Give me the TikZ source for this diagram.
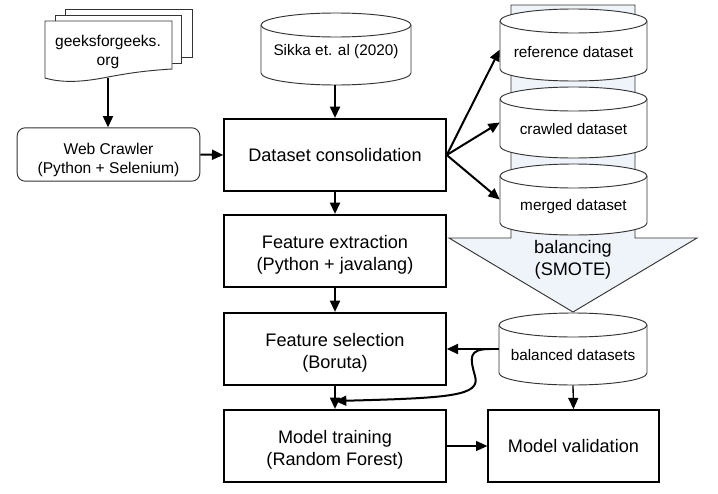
\documentclass[tikz,border=0pt]{standalone}
\usepackage{fontspec}
\setmainfont{Liberation Sans}
\usetikzlibrary{arrows.meta}
\definecolor{paleblue}{HTML}{EFF4FA}
\definecolor{soft}{HTML}{333333}
\newcommand{\lowerfirst}{\rule{0pt}{16pt}}
\tikzset{
  x=0.75pt,y=-0.75pt,
  procbox/.style={draw=black,line width=1.6pt,fill=white,align=center,font=\fontsize{13.6}{16.3}\selectfont,inner sep=0pt},
  softbox/.style={draw=soft,line width=.7pt,rounded corners=6pt,fill=white,align=center,font=\fontsize{11.7}{14.3}\selectfont,inner sep=0pt},
  thin outline/.style={draw=soft,line width=.7pt,fill=white},
  cyllabel/.style={align=center,font=\fontsize{11.5}{13}\selectfont,inner sep=0pt},
  flow/.style={draw=black,line width=1.5pt,-{Triangle[length=8.5pt,width=7.5pt]}},
}
% name, cx, top, bottom, rx, ry, label, baseline drop
\newcommand{\cylnode}[8]{%
  \path[thin outline] (#2-#5,#3+#6) -- (#2-#5,#4-#6) arc[start angle=180,end angle=360,x radius=#5*0.75pt,y radius=#6*0.75pt] -- (#2+#5,#3+#6) arc[start angle=0,end angle=180,x radius=#5*0.75pt,y radius=#6*0.75pt] -- cycle;
  \path[thin outline,fill=none] (#2-#5,#3+#6) arc[start angle=180,end angle=360,x radius=#5*0.75pt,y radius=#6*0.75pt];
  \node[cyllabel,minimum width=2*#5*0.75pt,minimum height=(#4-#3)*0.75pt] (#1) at (#2,{(#3+#4)/2}) {\smash{\raisebox{-#8pt}{#7}}};
}
\begin{document}
\begin{tikzpicture}
\useasboundingbox (0,0) rectangle (718,493);
% big hollow arrow
\path[draw=soft,line width=.7pt,fill=paleblue] (511,5) -- (635,5) -- (635,238) -- (697,238) -- (573,312) -- (449,238) -- (511,238) -- cycle;
\node[font=\fontsize{13.6}{16.3}\selectfont,align=center,inner sep=0pt] (balancing) at (573,260) {balancing\\(SMOTE)};
% documents
\path[thin outline] (65,9) -- (192,9) -- (192,57) -- (65,57) -- cycle;
\path[thin outline] (55,15) -- (181,15) -- (181,63) -- (55,63) -- cycle;
\path[thin outline] (45,21) -- (172,21) -- (172,69) .. controls (140,71) and (125,74) .. (108,77) .. controls (88,81) and (65,84) .. (45,78) -- cycle;
\node[align=center,font=\fontsize{11.7}{14.8}\selectfont,inner sep=0pt] (docs) at (108,52) {geeksforgeeks.\\org};
\coordinate (docsbottom) at (108,78);
% cylinders
\cylnode{sikka}{336}{13}{85}{75}{12}{Sikka et. al (2020)}{5}
\cylnode{refds}{573.5}{9}{81}{73.5}{12}{reference dataset}{9}
\cylnode{crawlds}{573.5}{87}{158}{73.5}{12}{crawled dataset}{9.2}
\cylnode{mergeds}{573.5}{164}{235}{73.5}{12}{merged dataset}{8.6}
\cylnode{balds}{573}{313}{385}{74}{12}{balanced datasets}{8.7}
% boxes
\node[softbox,minimum width=137pt,minimum height=40pt] (crawler) at (108.5,154.5) {\lowerfirst Web Crawler\\(Python + Selenium)};
\node[procbox,minimum width=166pt,minimum height=54pt] (consol) at (335,155) {Dataset consolidation};
\node[procbox,minimum width=166pt,minimum height=54pt] (extract) at (335,251) {\lowerfirst Feature extraction\\(Python + javalang)};
\node[procbox,minimum width=166pt,minimum height=54pt] (select) at (335,349) {\lowerfirst Feature selection\\(Boruta)};
\node[procbox,minimum width=166pt,minimum height=54pt] (train) at (335,446) {\lowerfirst Model training\\(Random Forest)};
\node[procbox,line width=1.2pt,minimum width=128pt,minimum height=54pt] (valid) at (573.5,446) {Model validation};
% connectors
\draw[flow] (docsbottom) -- (crawler.north -| docsbottom);
\draw[flow] (crawler.east) -- (consol.west);
\draw[flow] (sikka.south -| consol.north) -- (consol.north);
\draw[flow] (consol.south) -- (extract.north);
\draw[flow] (extract.south) -- (select.north);
\draw[flow] (select.south) -- (train.north);
\draw[flow] (consol.east) -- ([yshift=-3.5pt]refds.west);
\draw[flow] (consol.east) -- (crawlds.west);
\draw[flow] (consol.east) -- (mergeds.west);
\draw[flow] (balds.west) -- (select.east);
\coordinate (fork) at (490,349);
\coordinate (trainin) at (335,401);
\draw[flow] (fork) .. controls (468,349) and (470,358) .. (475,376) .. controls (481,396) and (450,398) .. (trainin);
\draw[flow,line width=1pt] (balds.south) -- (valid.north);
\draw[flow,line width=1pt] (train.east) -- (valid.west);
\end{tikzpicture}
\end{document}
